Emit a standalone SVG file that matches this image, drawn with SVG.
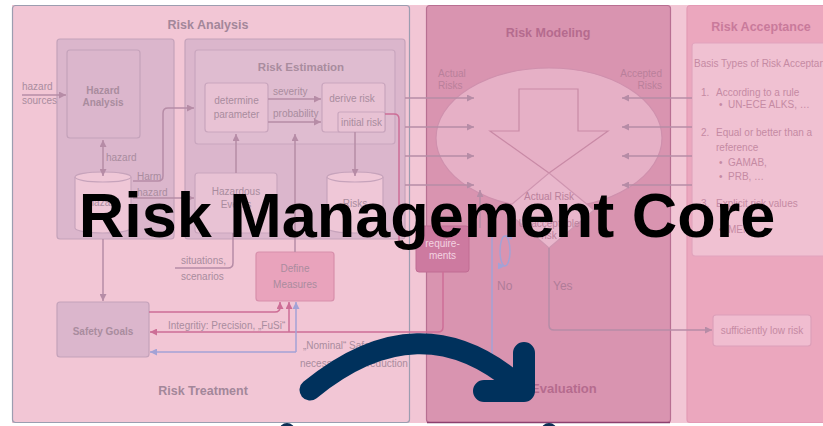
<svg xmlns="http://www.w3.org/2000/svg" width="823" height="426" viewBox="0 0 823 426">
<style>
text{font-family:"Liberation Sans",Arial,sans-serif;}
.t{font-size:10px;fill:#a98c9e;}
.tc{font-size:10px;fill:#a98c9e;text-anchor:middle;}
.h{font-weight:bold;font-size:12.5px;fill:#a3879a;text-anchor:middle;}
.hb{font-weight:bold;font-size:10px;fill:#a98c9e;text-anchor:middle;}
.m{font-size:10px;fill:#b9809b;}
.mh{font-weight:bold;font-size:12.5px;fill:#b56b8e;text-anchor:middle;}
.a{font-size:10px;fill:#c58aa3;}
.ln{fill:none;stroke:#b68ca6;stroke-width:1.5;}
.lr{fill:none;stroke:#cd6e96;stroke-width:1.5;}
.lb{fill:none;stroke:#a3a2d6;stroke-width:1.5;}
.grp{fill:#dbb6cc;stroke:#c4a2ba;stroke-width:1.2;}
.inner{fill:#dfbcd0;stroke:#c9a6be;stroke-width:1.2;}
.box{fill:#e8c2d4;stroke:#c9a5bd;stroke-width:1.2;}
.cyl{fill:#efc7d7;stroke:#c6a3bb;stroke-width:1.2;}
</style>
<defs>
<marker id="ag" viewBox="0 0 10 10" refX="10" refY="5" markerWidth="7" markerHeight="7" markerUnits="userSpaceOnUse" orient="auto-start-reverse"><path d="M0,0 L10,5 L0,10 z" fill="#b68ca6"/></marker>
<marker id="ar" viewBox="0 0 10 10" refX="10" refY="5" markerWidth="7" markerHeight="7" markerUnits="userSpaceOnUse" orient="auto-start-reverse"><path d="M0,0 L10,5 L0,10 z" fill="#cd6e96"/></marker>
<marker id="ab" viewBox="0 0 10 10" refX="10" refY="5" markerWidth="7" markerHeight="7" markerUnits="userSpaceOnUse" orient="auto-start-reverse"><path d="M0,0 L10,5 L0,10 z" fill="#a3a2d6"/></marker>
</defs>

<rect x="0" y="0" width="823" height="426" fill="#ffffff"/>
<rect x="12" y="5" width="811" height="418" fill="#f2c6d5"/>

<!-- Panels -->
<g id="risk-analysis-panel">
<rect x="12.5" y="5.5" width="397" height="417" rx="3" fill="#f2c6d5" stroke="#9c9db0" stroke-width="1.2"/>
<text class="h" x="208" y="28.5">Risk Analysis</text>
<text class="h" x="203" y="395">Risk Treatment</text>
</g>
<g id="risk-modeling-panel">
<rect x="426.5" y="5.5" width="244" height="417" rx="3" fill="#d994b0" stroke="#b86f92" stroke-width="1.2"/>
<line x1="427" y1="422.5" x2="670" y2="422.5" stroke="#8c3f6e" stroke-width="1.5"/>
<text class="mh" x="548" y="37">Risk Modeling</text>
<text class="m" x="438" y="76.5">Actual</text>
<text class="m" x="438" y="88.5">Risks</text>
<text class="m" x="662" y="76.5" text-anchor="end">Accepted</text>
<text class="m" x="662" y="88.5" text-anchor="end">Risks</text>
<text x="531" y="392.5" font-weight="bold" font-size="13" fill="#b56b8e">Evaluation</text>
<text x="497" y="290" font-size="12" fill="#b07c98">No</text>
<text x="553" y="290" font-size="12" fill="#b07c98">Yes</text>
</g>
<g id="risk-acceptance-panel">
<rect x="687" y="5.5" width="140" height="417" rx="3" fill="#eba7be" stroke="#e39ab5" stroke-width="1.2"/>
<text x="761" y="31" font-weight="bold" font-size="12.5" fill="#c97a9b" text-anchor="middle">Risk Acceptance</text>
</g>

<!-- Nodes -->
<g id="hazard-group"><rect class="grp" x="57" y="39" width="117" height="200" rx="3"/></g>
<g id="hazard-analysis">
<rect class="grp" x="67" y="50" width="73" height="88" rx="3"/>
<text class="hb" x="103" y="93.5">Hazard</text>
<text class="hb" x="103" y="106">Analysis</text>
</g>
<g id="hazard-list">
<path class="cyl" d="M75,177 V228 A28,5 0 0 0 131,228 V177 A28,5 0 0 0 75,177 Z"/>
<path class="cyl" d="M75,177 A28,5 0 0 0 131,177" fill="none"/>
<text class="tc" x="103" y="206">Hazard</text>
</g>
<g id="risk-estimation-group"><rect class="grp" x="185" y="39" width="220" height="200" rx="3"/></g>
<g id="risk-estimation">
<rect class="inner" x="195" y="50" width="200" height="94" rx="3"/>
<text x="301" y="71" font-weight="bold" font-size="11.5" fill="#a98c9e" text-anchor="middle">Risk Estimation</text>
</g>
<g id="determine-parameter">
<rect class="box" x="205" y="83" width="63" height="49" rx="3"/>
<text class="tc" x="236.5" y="103.5">determine</text>
<text class="tc" x="236.5" y="117.5">parameter</text>
</g>
<g id="derive-risk">
<rect class="box" x="322" y="83" width="63" height="49" rx="3"/>
<text class="tc" x="352" y="101.5">derive risk</text>
</g>
<g id="initial-risk">
<rect class="box" x="338" y="112" width="47" height="20" rx="2"/>
<text class="tc" x="361.5" y="126">initial risk</text>
</g>
<g id="hazardous-events">
<rect class="box" x="195" y="173" width="82" height="60" rx="3"/>
<text class="tc" x="236" y="194.5">Hazardous</text>
<text class="tc" x="236" y="208">Events</text>
</g>
<g id="risks">
<path class="cyl" d="M327,177 V228 A28,5 0 0 0 383,228 V177 A28,5 0 0 0 327,177 Z"/>
<path class="cyl" d="M327,177 A28,5 0 0 0 383,177" fill="none"/>
<text class="tc" x="355" y="206.5">Risks</text>
</g>
<g id="define-measures">
<rect x="256" y="252" width="78" height="49" rx="3" fill="#e9a3bc" stroke="#d78fab" stroke-width="1.2"/>
<text class="tc" x="295" y="271.5">Define</text>
<text class="tc" x="295" y="287.5">Measures</text>
</g>
<g id="safety-goals">
<rect class="grp" x="57" y="302" width="92" height="55" rx="3"/>
<text class="hb" x="103" y="334.5">Safety Goals</text>
</g>
<g id="risk-model-ellipse">
<ellipse cx="549" cy="138" rx="113" ry="70" fill="#e6b0c6" stroke="#cf90ad" stroke-width="1.2"/>
<path d="M519,89 H578 V131 H608 L549,173 L490,131 H519 Z" fill="#e6b0c6" stroke="#c98aa6" stroke-width="1.2"/>
</g>
<g id="actual-risk-decision">
<path d="M549,173 L594,210 L549,248 L505,210 Z" fill="#e9b7cc" stroke="#cf95b0" stroke-width="1.2"/>
<text class="m" x="549" y="199.5" text-anchor="middle">Actual Risk</text>
<text class="m" x="549" y="226.5" text-anchor="middle">Unacceptable</text>
<text class="m" x="549" y="238.5" text-anchor="middle">risk</text>
</g>
<g id="requirements">
<rect x="416" y="226" width="53" height="46" rx="3" fill="#cd7aa0" stroke="#c06c93" stroke-width="1"/>
<text x="442.5" y="246.5" font-size="10" fill="#f3d3e0" text-anchor="middle">require-</text>
<text x="442.5" y="258.5" font-size="10" fill="#f3d3e0" text-anchor="middle">ments</text>
</g>
<g id="sufficiently-low-risk">
<rect x="713" y="315" width="98" height="31" rx="3" fill="#f0bdd0" stroke="#dc9fb9" stroke-width="1.2"/>
<text class="a" x="762" y="333.5" text-anchor="middle">sufficiently  low  risk</text>
</g>
<g id="acceptance-types">
<rect x="692" y="43" width="140" height="213" rx="3" fill="#f0c1d2" stroke="#e2a4bd" stroke-width="1.2"/>
<text class="a" x="694" y="66.5">Basis Types of Risk Acceptance</text>
<text class="a" x="701" y="95.5">1.</text><text class="a" x="716" y="95.5">According to a rule</text>
<text class="a" x="719" y="107.5">•</text><text class="a" x="728" y="107.5">UN-ECE ALKS, …</text>
<text class="a" x="701" y="135.5">2.</text><text class="a" x="716" y="135.5">Equal or better than  a</text>
<text class="a" x="716" y="150.5">reference</text>
<text class="a" x="719" y="165.5">•</text><text class="a" x="728" y="165.5">GAMAB,</text>
<text class="a" x="719" y="179.5">•</text><text class="a" x="728" y="179.5">PRB, …</text>
<text class="a" x="701" y="206.5">3.</text><text class="a" x="716" y="206.5">Explicit risk values</text>
<text class="a" x="719" y="232.5">•</text><text class="a" x="728" y="232.5">MEM</text>
</g>

<!-- Connectors -->
<g id="connectors">
<path class="ln" d="M22,95 H66" marker-end="url(#ag)"/>
<path class="ln" d="M103,140 V176" marker-start="url(#ag)" marker-end="url(#ag)"/>
<path class="ln" d="M133,181 H158 Q163,181 163,176 V113 Q163,108 168,108 H194" marker-end="url(#ag)"/>
<path class="ln" d="M133,198 H194" marker-end="url(#ag)"/>
<path class="ln" d="M268,99 H321" marker-end="url(#ag)"/>
<path class="ln" d="M268,122 H321" marker-end="url(#ag)"/>
<path class="ln" d="M355,132 V176" marker-end="url(#ag)"/>
<path class="ln" d="M236,173 V134" marker-end="url(#ag)"/>
<path class="ln" d="M295,252 V134" marker-end="url(#ag)"/>
<path class="lr" d="M385,114 H394 Q399,114 399,119 V240 Q399,245 404,245 H415"/>
<path class="ln" d="M405,98 H474" marker-end="url(#ag)"/>
<path class="ln" d="M405,127 H474" marker-end="url(#ag)"/>
<path class="ln" d="M405,156 H474" marker-end="url(#ag)"/>
<path class="ln" d="M405,185 H474" marker-end="url(#ag)"/>
<path class="ln" d="M692,98 H622" marker-end="url(#ag)"/>
<path class="ln" d="M692,127 H622" marker-end="url(#ag)"/>
<path class="ln" d="M692,156 H622" marker-end="url(#ag)"/>
<path class="ln" d="M692,185 H622" marker-end="url(#ag)"/>
<path class="ln" d="M103,239 V301" marker-end="url(#ag)"/>
<path class="ln" d="M233,233 V263 Q233,268 228,268 H175"/>
<path class="lr" d="M149,312 H275 Q280,312 280,307 V302" marker-end="url(#ar)"/>
<path class="lr" d="M443,272 V327 Q443,332 438,332 H150" marker-end="url(#ar)"/>
<path class="lr" d="M289,332 V302" marker-end="url(#ar)"/>
<path class="lb" d="M296,352 H150" marker-end="url(#ab)"/>
<path class="lb" d="M296,352 V302" marker-end="url(#ab)"/>
<path class="lb" d="M492,233 V360"/>
<path class="lb" d="M505,236 A5,15 0 0 0 505,266" fill="none" marker-end="url(#ab)"/>
<path class="lb" d="M505,266 A5,15 0 0 0 505,236" fill="none" marker-end="url(#ab)"/>
<path class="ln" d="M480,228 V190" marker-end="url(#ag)"/>
<path class="ln" d="M549,248 V325 Q549,330 554,330 H712" marker-end="url(#ag)"/>
</g>

<!-- Connector labels -->
<g id="labels">
<text class="t" x="22" y="89.5">hazard</text>
<text class="t" x="22" y="103.5">sources</text>
<text class="t" x="106" y="160.5">hazard</text>
<text class="t" x="137" y="179.5">Harm</text>
<text class="t" x="137" y="195.5">hazard</text>
<text class="t" x="273" y="94.5">severity</text>
<text class="t" x="273" y="116.5">probability</text>
<text class="t" x="181" y="263.5">situations,</text>
<text class="t" x="181" y="279.5">scenarios</text>
<text class="t" x="168" y="328.5">Integritiy:  Precision, „FuSi“</text>
<text class="t" x="303" y="348.5">„Nominal“  Safety</text>
<text class="t" x="300" y="366.5">necessary risk reduction</text>
</g>

<!-- Overlay -->
<g id="overlay">
<circle cx="287" cy="431" r="8" fill="#0d2f55"/>
<circle cx="549" cy="431" r="8" fill="#0d2f55"/>
<path d="M310,390 Q420,300 518,385" fill="none" stroke="#00315c" stroke-width="21" stroke-linecap="round"/>
<path d="M484,391 H524 V353" fill="none" stroke="#00315c" stroke-width="22" stroke-linecap="round" stroke-linejoin="round"/>
<text x="427" y="237" font-family="'Liberation Sans',Arial,sans-serif" font-weight="bold" font-size="63" fill="#000000" text-anchor="middle">Risk Management Core</text>
</g>
</svg>
